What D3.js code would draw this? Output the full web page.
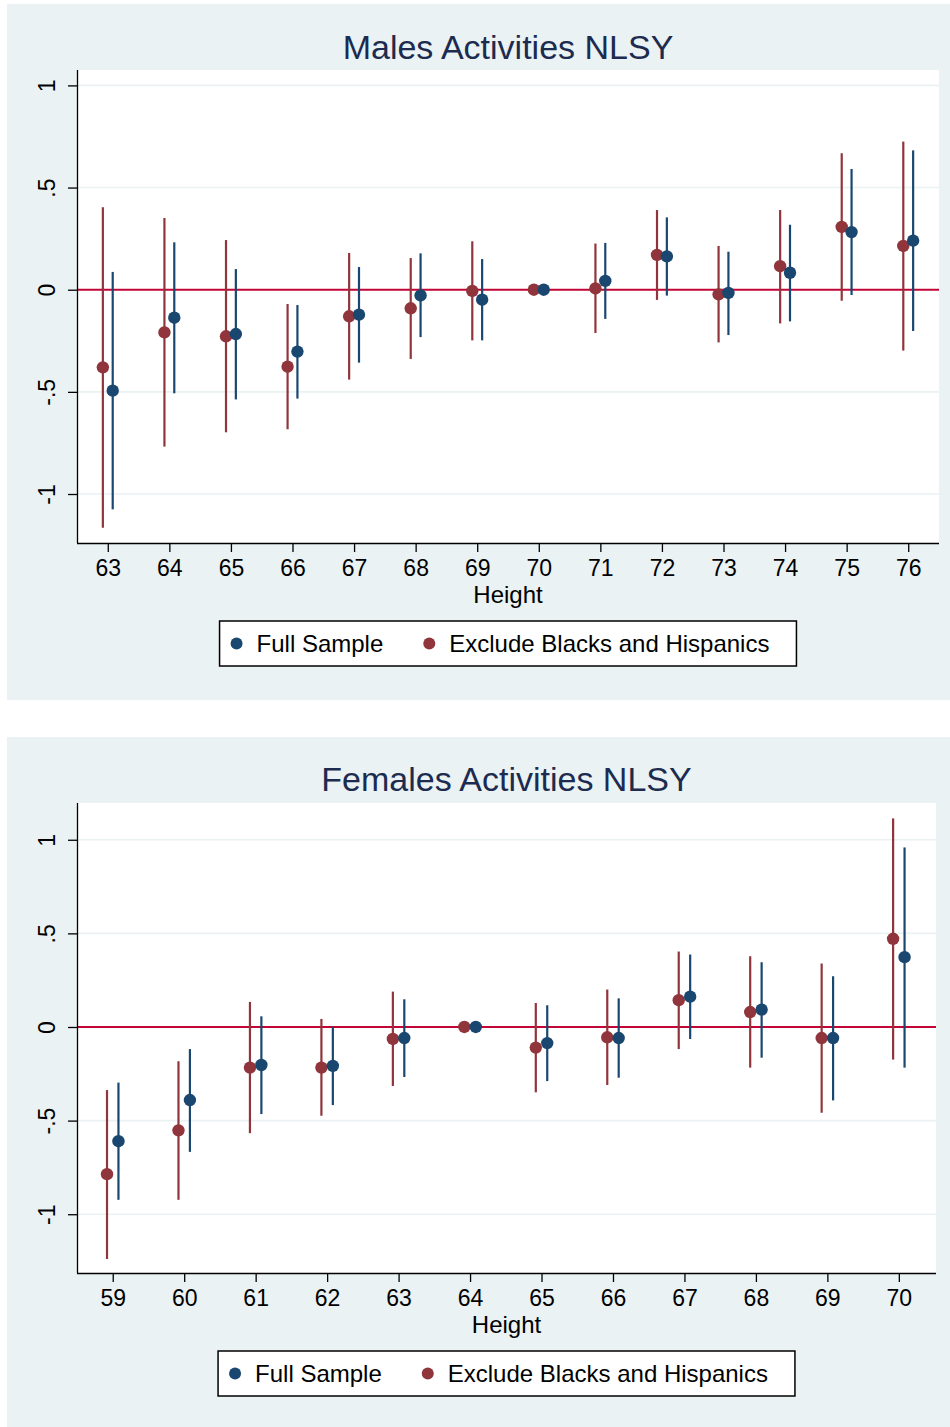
<!DOCTYPE html>
<html>
<head>
<meta charset="utf-8">
<script src="https://cdn.jsdelivr.net/npm/d3@7"></script>
<style>
  html, body { margin: 0; padding: 0; background: #ffffff; }
  svg { display: block; }
  text { font-family: "Liberation Sans", Arial, Helvetica, sans-serif; }
</style>
</head>
<body>
<svg id="chart" width="950" height="1427"></svg>
<script>
// ---------------- DATA ----------------
const yTickValues = [-1, -0.5, 0, 0.5, 1];
const yTickLabels = ["-1", "-.5", "0", ".5", "1"];
const legendLabels = ["Full Sample", "Exclude Blacks and Hispanics"];

// Males
const heightsM = [63, 64, 65, 66, 67, 68, 69, 70, 71, 72, 73, 74, 75, 76];
const fullM    = [-0.494, -0.137, -0.217, -0.303, -0.122, -0.028, -0.049, 0, 0.043, 0.163, -0.016, 0.083, 0.282, 0.240];
const fullMLo  = [-1.075, -0.507, -0.537, -0.533, -0.357, -0.232, -0.248, 0, -0.143, -0.029, -0.222, -0.155, -0.026, -0.202];
const fullMHi  = [0.087, 0.232, 0.101, -0.075, 0.111, 0.178, 0.150, 0, 0.229, 0.354, 0.186, 0.318, 0.591, 0.682];
const exclM    = [-0.380, -0.209, -0.228, -0.377, -0.130, -0.091, -0.006, 0, 0.006, 0.170, -0.023, 0.115, 0.307, 0.214];
const exclMLo  = [-1.165, -0.768, -0.698, -0.683, -0.440, -0.339, -0.248, 0, -0.212, -0.050, -0.258, -0.165, -0.054, -0.298];
const exclMHi  = [0.403, 0.351, 0.243, -0.070, 0.180, 0.155, 0.237, 0, 0.226, 0.390, 0.214, 0.390, 0.668, 0.725];

// Females
const heightsF = [59, 60, 61, 62, 63, 64, 65, 66, 67, 68, 69, 70];
const fullF    = [-0.610, -0.390, -0.203, -0.208, -0.059, 0, -0.086, -0.059, 0.162, 0.093, -0.059, 0.373];
const fullFLo  = [-0.923, -0.667, -0.465, -0.417, -0.267, 0, -0.289, -0.271, -0.064, -0.164, -0.392, -0.217];
const fullFHi  = [-0.297, -0.118, 0.057, 0.000, 0.148, 0, 0.116, 0.153, 0.387, 0.346, 0.271, 0.959];
const exclF    = [-0.786, -0.552, -0.217, -0.217, -0.064, 0, -0.110, -0.055, 0.143, 0.080, -0.059, 0.471];
const exclFLo  = [-1.239, -0.923, -0.567, -0.474, -0.315, 0, -0.349, -0.310, -0.118, -0.217, -0.458, -0.174];
const exclFHi  = [-0.337, -0.183, 0.134, 0.043, 0.189, 0, 0.128, 0.200, 0.403, 0.378, 0.339, 1.114];

// ---------------- STYLE ----------------
const BG = "#eaf2f3";
const BLUE = "#1a476f";
const RED = "#90353b";
const ZERO = "#c10534";
const TITLE = "#1c2b4f";
const OFFSET = 0.08; // horizontal dodge in height units

const svg = d3.select("#chart");

function drawPanel(cfg) {
  const g = svg.append("g");
  // background panel
  g.append("rect").attr("x", cfg.panel.x).attr("y", cfg.panel.y)
    .attr("width", cfg.panel.w).attr("height", cfg.panel.h).attr("fill", BG);

  const x = d3.scaleLinear().domain(cfg.xDomain).range([cfg.plot.left, cfg.plot.right]);
  const y = d3.scaleLinear().domain(cfg.yDomain).range([cfg.plot.bottom, cfg.plot.top]);

  // plot region
  g.append("rect").attr("x", cfg.plot.left).attr("y", cfg.plot.top)
    .attr("width", cfg.plot.right - cfg.plot.left)
    .attr("height", cfg.plot.bottom - cfg.plot.top).attr("fill", "#ffffff");

  // gridlines
  g.append("g").selectAll("line").data(yTickValues.filter(v => v !== 0)).join("line")
    .attr("x1", cfg.plot.left).attr("x2", cfg.plot.right)
    .attr("y1", d => y(d)).attr("y2", d => y(d))
    .attr("stroke", BG).attr("stroke-width", 1.6);

  // zero line
  g.append("line").attr("x1", cfg.plot.left).attr("x2", cfg.plot.right)
    .attr("y1", y(0)).attr("y2", y(0)).attr("stroke", ZERO).attr("stroke-width", 2);

  // axes
  const xAxis = d3.axisBottom(x).tickValues(cfg.heights).tickFormat(d3.format("d"))
    .tickSize(9).tickSizeOuter(0).tickPadding(8);
  const xg = g.append("g").attr("transform", `translate(0,${cfg.plot.bottom})`).call(xAxis);
  xg.select(".domain").attr("stroke", "#000").attr("stroke-width", 1.3)
    .attr("d", `M${cfg.plot.left},0.5H${cfg.plot.right}`);
  xg.selectAll(".tick line").attr("stroke", "#000").attr("stroke-width", 1.3);
  xg.selectAll(".tick text").attr("font-size", 23).attr("fill", "#000")
    .attr("font-family", "Liberation Sans, Arial, sans-serif");

  const yAxis = d3.axisLeft(y).tickValues(yTickValues)
    .tickFormat((d, i) => yTickLabels[i]).tickSize(9).tickSizeOuter(0).tickPadding(0);
  const yg = g.append("g").attr("transform", `translate(${cfg.plot.left},0)`).call(yAxis);
  yg.select(".domain").attr("stroke", "#000").attr("stroke-width", 1.3)
    .attr("d", `M0.5,${cfg.plot.top}V${cfg.plot.bottom}`);
  yg.selectAll(".tick line").attr("stroke", "#000").attr("stroke-width", 1.3);
  yg.selectAll(".tick text").remove();
  yg.selectAll(".tick").append("text")
    .attr("transform", "translate(-30,0) rotate(-90)")
    .attr("text-anchor", "middle").attr("dy", "0.36em")
    .attr("font-size", 23).attr("fill", "#000")
    .attr("font-family", "Liberation Sans, Arial, sans-serif")
    .text((d, i) => yTickLabels[i]);

  // series: draw excl (red) first, then full (blue) on top
  const series = [
    { est: cfg.excl, lo: cfg.exclLo, hi: cfg.exclHi, color: RED, dx: -OFFSET },
    { est: cfg.full, lo: cfg.fullLo, hi: cfg.fullHi, color: BLUE, dx: OFFSET }
  ];
  series.forEach(s => {
    const rows = cfg.heights.map((h, i) => ({ h: h + s.dx, e: s.est[i], lo: s.lo[i], hi: s.hi[i] }));
    g.append("g").selectAll("line").data(rows.filter(r => r.hi !== r.lo)).join("line")
      .attr("x1", d => x(d.h)).attr("x2", d => x(d.h))
      .attr("y1", d => y(d.lo)).attr("y2", d => y(d.hi))
      .attr("stroke", s.color).attr("stroke-width", 2.2);
    g.append("g").selectAll("circle").data(rows).join("circle")
      .attr("cx", d => x(d.h)).attr("cy", d => y(d.e)).attr("r", 6.2)
      .attr("fill", s.color);
  });

  // title
  g.append("text").attr("x", (cfg.plot.left + cfg.plot.right) / 2).attr("y", cfg.titleY)
    .attr("text-anchor", "middle").attr("font-size", 34).attr("fill", TITLE)
    .text(cfg.title);

  // x axis title
  g.append("text").attr("x", (cfg.plot.left + cfg.plot.right) / 2).attr("y", cfg.xTitleY)
    .attr("text-anchor", "middle").attr("font-size", 24).attr("fill", "#000")
    .text("Height");

  // legend
  const lg = g.append("g");
  const fs = 24;
  const items = [{ label: legendLabels[0], color: BLUE }, { label: legendLabels[1], color: RED }];
  const padL = 17, dotGap = 20, itemGap = 46, padR = 27;
  let cx = padL;
  const parts = [];
  items.forEach((it, i) => {
    const dotX = cx;
    const t = lg.append("text").attr("x", dotX + dotGap).attr("y", 0).attr("font-size", fs)
      .attr("fill", "#000").text(it.label);
    const w = t.node().getComputedTextLength();
    parts.push({ dotX, t, color: it.color, end: dotX + dotGap + w });
    cx = dotX + dotGap + w + itemGap;
  });
  const totalW = parts[parts.length - 1].end + padR;
  const boxH = 45;
  const left = (cfg.plot.left + cfg.plot.right) / 2 - totalW / 2;
  lg.insert("rect", ":first-child").attr("x", 0).attr("y", 0).attr("width", totalW).attr("height", boxH)
    .attr("fill", "#fff").attr("stroke", "#000").attr("stroke-width", 1.5);
  parts.forEach(p => {
    lg.append("circle").attr("cx", p.dotX).attr("cy", boxH / 2).attr("r", 6).attr("fill", p.color);
    p.t.attr("y", boxH / 2 + 8.5);
  });
  lg.attr("transform", `translate(${left},${cfg.legendY})`);
}

drawPanel({
  panel: { x: 7, y: 4, w: 943, h: 696 },
  plot: { left: 77, right: 939, top: 70, bottom: 543 },
  xDomain: [62.5, 76.5], yDomain: [-1.2398, 1.0754],
  heights: heightsM,
  full: fullM, fullLo: fullMLo, fullHi: fullMHi,
  excl: exclM, exclLo: exclMLo, exclHi: exclMHi,
  title: "Males Activities NLSY", titleY: 59, xTitleY: 603, legendY: 621
});

drawPanel({
  panel: { x: 7, y: 737, w: 943, h: 690 },
  plot: { left: 77, right: 936, top: 803, bottom: 1273 },
  xDomain: [58.5, 70.52], yDomain: [-1.3139, 1.1963],
  heights: heightsF,
  full: fullF, fullLo: fullFLo, fullHi: fullFHi,
  excl: exclF, exclLo: exclFLo, exclHi: exclFHi,
  title: "Females Activities NLSY", titleY: 791, xTitleY: 1333, legendY: 1351
});
</script>
</body>
</html>
